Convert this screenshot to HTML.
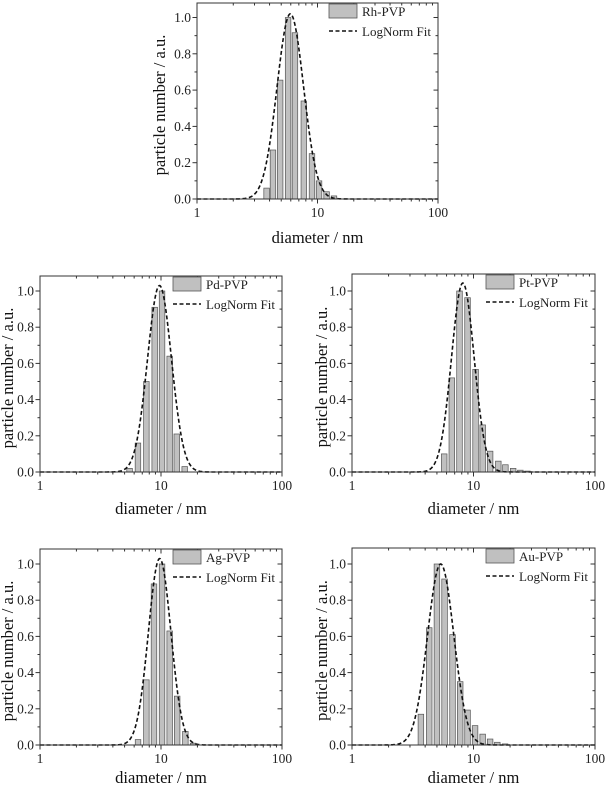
<!DOCTYPE html>
<html><head><meta charset="utf-8"><style>
html,body{margin:0;padding:0;background:#fff;}
svg{display:block;font-family:"Liberation Serif",serif;}
</style></head><body>
<svg id="fig" width="605" height="786" viewBox="0 0 605 786" xmlns="http://www.w3.org/2000/svg"></svg>
<script>
// ---- data ----
const yTickLabels = ["0.0","0.2","0.4","0.6","0.8","1.0"];
const xTickLabels = ["1","10","100"];
const legendNames = ["Rh-PVP","Pd-PVP","Pt-PVP","Ag-PVP","Au-PVP"];

const rhCenters = [3.78,4.27,4.9,5.7,6.5,7.7,9.0,10.3,11.9,13.7];
const rhHeights = [0.06,0.27,0.655,1.0,0.916,0.54,0.25,0.10,0.04,0.017];
const pdCenters = [5.5,6.45,7.57,8.87,10.2,11.8,13.5,15.7];
const pdHeights = [0.02,0.16,0.50,0.91,1.0,0.64,0.21,0.03];
const ptCenters = [5.74,6.63,7.67,8.93,10.4,11.9,13.7,16.0,18.3,21.2,24.3,27.8];
const ptHeights = [0.10,0.52,1.0,0.963,0.567,0.26,0.115,0.06,0.04,0.02,0.01,0.005];
const agCenters = [6.46,7.57,8.75,10.2,11.8,13.6,15.9,18.4];
const agHeights = [0.03,0.36,0.89,1.0,0.63,0.27,0.075,0.01];
const auCenters = [3.69,4.32,5.0,5.78,6.72,7.77,8.93,10.3,11.9,13.7,15.7,18.2];
const auHeights = [0.17,0.648,1.0,0.917,0.61,0.35,0.193,0.107,0.06,0.033,0.015,0.006];

// log-normal fit parameters: [peak, center (nm), sigma (decades)]
const rhFit = [1.02, 5.95, 0.11];
const pdFit = [1.03, 9.72, 0.099];
const ptFit = [1.044, 8.17, 0.093];
const agFit = [1.03, 9.75, 0.093];
const auFit = [1.0, 5.37, 0.108];

const NS = "http://www.w3.org/2000/svg";
const fig = document.getElementById('fig');
function mk(tag, attrs, parent){
  const e = document.createElementNS(NS, tag);
  for (const k in attrs) e.setAttribute(k, attrs[k]);
  (parent||fig).appendChild(e);
  return e;
}

function drawChart(key, L, R, T, B0, B1, legendName, centers, heights, fit, xTitleY, yTitleX){
  const g = mk('g', {});
  
  
  const xs = v => L + (Math.log10(v) / 2) * (R - L);
  const ys = v => B0 - v * (B0 - B1);
  const dec = (R - L) / 2;
  const bw = 0.046 * dec;
  centers.forEach((c, i) => {
    const r = mk('rect', {x: xs(c) - bw/2, y: ys(heights[i]), width: bw, height: B0 - ys(heights[i]),
      fill: '#c0c0c0', stroke: '#555', 'stroke-width': 0.7}, g);
    
    
  });
  let d = '';
  for (let i = 0; i <= 400; i++) {
    const lx = i / 200;
    const v = fit[0] * Math.exp(-Math.pow(lx - Math.log10(fit[1]), 2) / (2 * fit[2] * fit[2]));
    d += (i ? 'L' : 'M') + (L + lx * dec).toFixed(2) + ',' + ys(v).toFixed(2);
  }
  const p = mk('path', {d: d, fill: 'none', stroke: '#111', 'stroke-width': 1.6, 'stroke-dasharray': '4,2.5'}, g);
  
  
  const f = mk('rect', {x: L, y: T, width: R - L, height: B0 - T, fill: 'none', stroke: '#333', 'stroke-width': 1}, g);
  
  
  for (let k = 0; k <= 10; k++) {
    const y = ys(k / 10), len = k % 2 ? 2.5 : 4.5;
    mk('line', {x1: L - len, y1: y, x2: L, y2: y, stroke: '#333', 'stroke-width': 1}, g);
    mk('line', {x1: R - len, y1: y, x2: R, y2: y, stroke: '#333', 'stroke-width': 1}, g);
  }
  yTickLabels.forEach((t, i) => {
    const tx = mk('text', {x: L - 6, y: ys(i * 0.2) + 4.5, 'font-size': 13.5, 'text-anchor': 'end', fill: '#222'}, g);
    tx.textContent = t;
    
    
  });
  for (let dcd = 0; dcd < 2; dcd++) for (let m = 1; m <= 10; m++) {
    const x = L + (dcd + Math.log10(m)) * dec, len = (m === 1 || m === 10) ? 4.5 : 2.5;
    mk('line', {x1: x, y1: B0, x2: x, y2: B0 + len, stroke: '#333', 'stroke-width': 1}, g);
    mk('line', {x1: x, y1: T, x2: x, y2: T + len, stroke: '#333', 'stroke-width': 1}, g);
  }
  xTickLabels.forEach((t, i) => {
    const tx = mk('text', {x: L + i * dec, y: B0 + 18, 'font-size': 13.5, 'text-anchor': 'middle', fill: '#222'}, g);
    tx.textContent = t;
    
    
  });
  const xt = mk('text', {x: (L + R) / 2, y: xTitleY, 'font-size': 16.5, 'text-anchor': 'middle', fill: '#111'}, g);
  xt.textContent = 'diameter / nm';
  
  
  const yc = (B0 + T) / 2 + 4;
  const yt = mk('text', {x: yTitleX, y: yc, 'font-size': 16.5, 'text-anchor': 'middle', fill: '#111',
    transform: 'rotate(-90 ' + yTitleX + ' ' + yc + ')'}, g);
  yt.textContent = 'particle number / a.u.';
  
  
  const lg = mk('g', {}, g);
  
  
  mk('rect', {x: R - 109, y: T + 1, width: 28, height: 14, fill: '#c0c0c0', stroke: '#555', 'stroke-width': 0.8}, lg);
  const l1 = mk('text', {x: R - 76, y: T + 13, 'font-size': 13, fill: '#222'}, lg);
  l1.textContent = legendName;
  mk('line', {x1: R - 109, y1: T + 28, x2: R - 81, y2: T + 28, stroke: '#111', 'stroke-width': 1.6, 'stroke-dasharray': '4,2.5'}, lg);
  const l2 = mk('text', {x: R - 76, y: T + 33, 'font-size': 13, fill: '#222'}, lg);
  l2.textContent = 'LogNorm Fit';
}

drawChart('rh', 197, 438, 3, 199, 17.5, legendNames[0], rhCenters, rhHeights, rhFit, 243, 165);
drawChart('pd', 40, 282, 276, 472, 291, legendNames[1], pdCenters, pdHeights, pdFit, 514, 13);
drawChart('pt', 352, 595, 274, 472, 291, legendNames[2], ptCenters, ptHeights, ptFit, 514, 327);
drawChart('ag', 40, 282, 549, 745, 564, legendNames[3], agCenters, agHeights, agFit, 783, 13);
drawChart('au', 352, 595, 548, 745, 564, legendNames[4], auCenters, auHeights, auFit, 783, 327);
</script>
</body></html>
